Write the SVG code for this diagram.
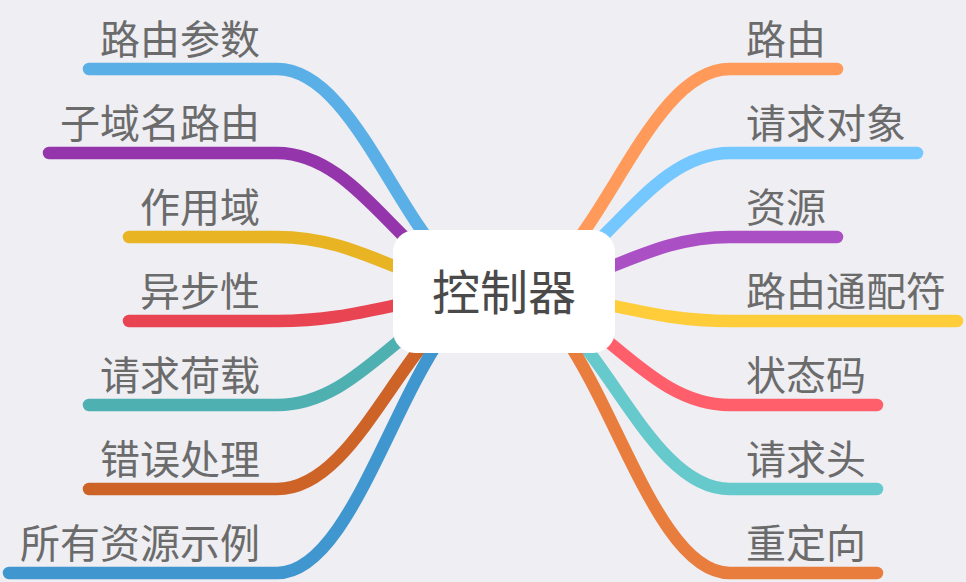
<svg xmlns="http://www.w3.org/2000/svg" width="966" height="582" viewBox="0 0 966 582">
<style>
.bg{fill:#eeeef3}
.ln{fill:none;stroke-width:12.5;stroke-linecap:round;stroke-linejoin:round}
.lbl{font-family:"Noto Sans CJK SC","Noto Sans",sans-serif;font-size:40px;fill:#6b6b6b}
.l{text-anchor:end}
.ctr{font-family:"Noto Sans CJK SC","Noto Sans",sans-serif;font-size:48px;fill:#4a4a4a;text-anchor:middle}
</style>
<rect class="bg" x="0" y="0" width="966" height="582"/>
<g id="connectors">
<path class="ln" stroke="#5aafe6" d="M503,292 C412.6,292 367.4,69 277,69 L89,69"/>
<path class="ln" stroke="#9535ab" d="M503,292 C412.6,292 367.4,153 277,153 L49,153"/>
<path class="ln" stroke="#e8b424" d="M503,292 C412.6,292 367.4,237 277,237 L129,237"/>
<path class="ln" stroke="#e84452" d="M503,292 C412.6,292 367.4,321 277,321 L129,321"/>
<path class="ln" stroke="#4fb0b2" d="M503,292 C412.6,292 367.4,405 277,405 L89,405"/>
<path class="ln" stroke="#cd6327" d="M503,292 C412.6,292 367.4,489 277,489 L89,489"/>
<path class="ln" stroke="#4096ce" d="M503,292 C412.6,292 367.4,573 277,573 L9,573"/>
<path class="ln" stroke="#ff9a5a" d="M503,292 C593.8,292 639.2,69 730,69 L837,69"/>
<path class="ln" stroke="#74c7ff" d="M503,292 C593.8,292 639.2,153 730,153 L917,153"/>
<path class="ln" stroke="#ab4fc5" d="M503,292 C593.8,292 639.2,237 730,237 L837,237"/>
<path class="ln" stroke="#ffcc3a" d="M503,292 C593.8,292 639.2,321 730,321 L957,321"/>
<path class="ln" stroke="#ff5f6b" d="M503,292 C593.8,292 639.2,405 730,405 L877,405"/>
<path class="ln" stroke="#66c9cc" d="M503,292 C593.8,292 639.2,489 730,489 L877,489"/>
<path class="ln" stroke="#e87d3e" d="M503,292 C593.8,292 639.2,573 730,573 L877,573"/>
</g>
<g id="center">
<rect x="393" y="230" width="222" height="123" rx="22" fill="#ffffff"/>
<text class="ctr" x="504" y="310">控制器</text>
</g>
<g id="n-l1"><text class="lbl l" x="260" y="54">路由参数</text></g>
<g id="n-l2"><text class="lbl l" x="260" y="138">子域名路由</text></g>
<g id="n-l3"><text class="lbl l" x="260" y="222">作用域</text></g>
<g id="n-l4"><text class="lbl l" x="260" y="306">异步性</text></g>
<g id="n-l5"><text class="lbl l" x="260" y="390">请求荷载</text></g>
<g id="n-l6"><text class="lbl l" x="260" y="474">错误处理</text></g>
<g id="n-l7"><text class="lbl l" x="260" y="558">所有资源示例</text></g>
<g id="n-r1"><text class="lbl" x="746" y="54">路由</text></g>
<g id="n-r2"><text class="lbl" x="746" y="138">请求对象</text></g>
<g id="n-r3"><text class="lbl" x="746" y="222">资源</text></g>
<g id="n-r4"><text class="lbl" x="746" y="306">路由通配符</text></g>
<g id="n-r5"><text class="lbl" x="746" y="390">状态码</text></g>
<g id="n-r6"><text class="lbl" x="746" y="474">请求头</text></g>
<g id="n-r7"><text class="lbl" x="746" y="558">重定向</text></g>
</svg>
